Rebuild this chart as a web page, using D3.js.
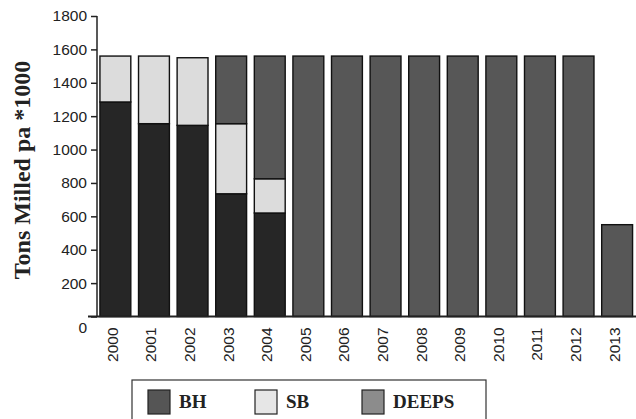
<!DOCTYPE html>
<html><head><meta charset="utf-8">
<script src="https://cdn.jsdelivr.net/npm/d3@7"></script>
<style>body{margin:0;background:#fff}svg{display:block}</style>
</head><body>
<svg id="c" width="636" height="419"></svg>
<script>
const years = ["2000","2001","2002","2003","2004","2005","2006","2007","2008","2009","2010","2011","2012","2013"];
const BH    = [1285,1155,1145,735,620,0,0,0,0,0,0,0,0,0];
const SB    = [275,405,405,420,205,0,0,0,0,0,0,0,0,0];
const DEEPS = [0,0,0,405,735,1560,1560,1560,1560,1560,1560,1560,1560,550];
const seriesNames = ["BH","SB","DEEPS"];
const yTicks = [0,200,400,600,800,1000,1200,1400,1600,1800];
const barColors = ["#262626","#dcdcdc","#575757"];
const legendColors = ["#555555","#e6e6e6","#8c8c8c"];

const svg = d3.select("#c");
const y = d3.scaleLinear().domain([0,1800]).range([316.5,16]);
const x = d3.scaleBand().domain(years).range([98,634.5]).paddingInner(0.2).paddingOuter(0.05);

const rows = years.map((yr,i)=>({year:yr,BH:BH[i],SB:SB[i],DEEPS:DEEPS[i]}));
const stacked = d3.stack().keys(seriesNames)(rows);

stacked.forEach((s,si)=>{
  svg.append("g").selectAll("rect").data(s.filter(d=>d[1]-d[0]>0)).join("rect")
    .attr("x",d=>x(d.data.year)).attr("width",x.bandwidth())
    .attr("y",d=>y(d[1])).attr("height",d=>y(d[0])-y(d[1]))
    .attr("fill",barColors[si]).attr("stroke","#111").attr("stroke-width",1.4);
});

// y axis
const ya = svg.append("g").attr("transform","translate(97,0)")
  .call(d3.axisLeft(y).tickValues(yTicks).tickSize(6).tickPadding(4).tickFormat(d3.format("d")));
ya.select(".domain").attr("stroke","#222").attr("stroke-width",1.5).attr("d","M0,16V316.5");
ya.selectAll(".tick line").attr("stroke","#222").attr("stroke-width",1.5);
ya.selectAll(".tick text").attr("font-family","Liberation Sans, Arial, sans-serif").attr("font-size",15.5).attr("fill","#222");
ya.selectAll(".tick").filter(d=>d===0).select("text").attr("dy","1.0em");

// x axis
const xa = svg.append("g").attr("transform","translate(0,316.5)")
  .call(d3.axisBottom(x).tickSize(0).tickPadding(0));
xa.select(".domain").attr("stroke","#222").attr("stroke-width",1.8).attr("d","M88,0H636");
xa.selectAll(".tick text")
  .attr("font-family","Liberation Sans, Arial, sans-serif").attr("font-size",15.5).attr("fill","#222")
  .attr("transform","rotate(-90)").attr("text-anchor","end").attr("x",-11).attr("y",-3).attr("dy","0.35em");

// y title
svg.append("text").attr("transform","translate(30,170) rotate(-90)")
  .attr("text-anchor","middle").attr("font-family","Liberation Serif, Times New Roman, serif")
  .attr("font-weight","bold").attr("font-size",24).attr("fill","#222").text("Tons Milled pa *1000");

// legend
svg.append("rect").attr("x",132).attr("y",380).attr("width",354).attr("height",45)
  .attr("fill","#fff").attr("stroke","#333").attr("stroke-width",1.2);
const lx = [148,255,362];
seriesNames.forEach((n,i)=>{
  svg.append("rect").attr("x",lx[i]).attr("y",390).attr("width",22).attr("height",24)
    .attr("fill",legendColors[i]).attr("stroke","#222").attr("stroke-width",1.2);
  svg.append("text").attr("x",lx[i]+31).attr("y",408)
    .attr("font-family","Liberation Serif, Times New Roman, serif").attr("font-weight","bold")
    .attr("font-size",19).attr("fill","#222").text(n);
});
</script>
</body></html>
